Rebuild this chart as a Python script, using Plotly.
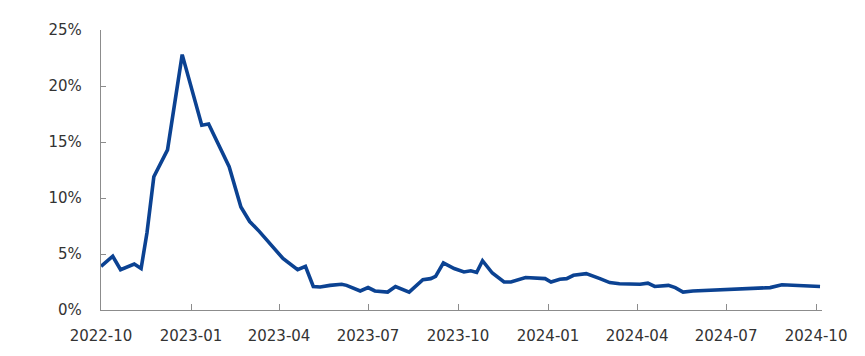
import plotly.graph_objects as go

dates = [
    "2022-10-01", "2022-10-13", "2022-10-21", "2022-11-04", "2022-11-11",
    "2022-11-17", "2022-11-24", "2022-12-08", "2022-12-23", "2023-01-12",
    "2023-01-19", "2023-02-04", "2023-02-09", "2023-02-21", "2023-03-02",
    "2023-03-12", "2023-04-05", "2023-04-20", "2023-04-28", "2023-05-06",
    "2023-05-13", "2023-05-23", "2023-06-04", "2023-06-09", "2023-06-23",
    "2023-07-01", "2023-07-08", "2023-07-21", "2023-07-29", "2023-08-12",
    "2023-08-26", "2023-09-03", "2023-09-08", "2023-09-16", "2023-09-27",
    "2023-10-07", "2023-10-14", "2023-10-20", "2023-10-26", "2023-11-05",
    "2023-11-17", "2023-11-24", "2023-12-09", "2023-12-29", "2024-01-04",
    "2024-01-13", "2024-01-20", "2024-01-27", "2024-02-09", "2024-02-23",
    "2024-03-04", "2024-03-14", "2024-04-04", "2024-04-12", "2024-04-19",
    "2024-05-03", "2024-05-10", "2024-05-18", "2024-05-28", "2024-08-15",
    "2024-08-27", "2024-10-05",
]
values = [
    3.9, 4.8, 3.6, 4.1, 3.7,
    6.9, 11.9, 14.3, 22.8, 16.5,
    16.6, 13.8, 12.8, 9.2, 7.9,
    7.0, 4.6, 3.6, 3.9, 2.1,
    2.05, 2.2, 2.3, 2.2, 1.7,
    2.0, 1.7, 1.6, 2.1, 1.6,
    2.7, 2.8, 3.0, 4.2, 3.7,
    3.4, 3.5, 3.35, 4.4, 3.3,
    2.5, 2.5, 2.9, 2.8, 2.5,
    2.75, 2.8, 3.1, 3.25, 2.8,
    2.45, 2.35, 2.3, 2.4, 2.1,
    2.2, 2.0, 1.6, 1.7, 2.0,
    2.25, 2.1,
]

FONT = dict(family="DejaVu Sans, Verdana, sans-serif", size=15, color="#333333")
AXIS = "#8c8c8c"

fig = go.Figure(
    go.Scatter(
        x=dates, y=values, mode="lines",
        line=dict(color="#0B4292", width=3.6),
        hoverinfo="skip",
    )
)

fig.update_layout(
    width=849, height=340,
    margin=dict(l=93, r=35, t=22, b=38),
    paper_bgcolor="white", plot_bgcolor="white",
    showlegend=False, font=FONT,
)
fig.update_xaxes(
    type="date", range=["2022-10-01", "2024-10-07"],
    tick0="2022-10-01", dtick="M3", tickformat="%Y-%m",
    showgrid=False, zeroline=False, automargin=False,
    showline=True, linecolor=AXIS, linewidth=1.3,
    ticks="inside", ticklen=6, tickcolor=AXIS, tickwidth=1.3,
    tickfont=FONT, ticklabelstandoff=12,
)
fig.update_yaxes(
    range=[0, 25], tick0=0, dtick=5, ticksuffix="%",
    showgrid=False, zeroline=False, automargin=False,
    showline=True, linecolor=AXIS, linewidth=1.3,
    ticks="inside", ticklen=5, tickcolor=AXIS, tickwidth=1.3,
    tickfont=FONT, ticklabelstandoff=15,
)

fig.write_html("out.html")
